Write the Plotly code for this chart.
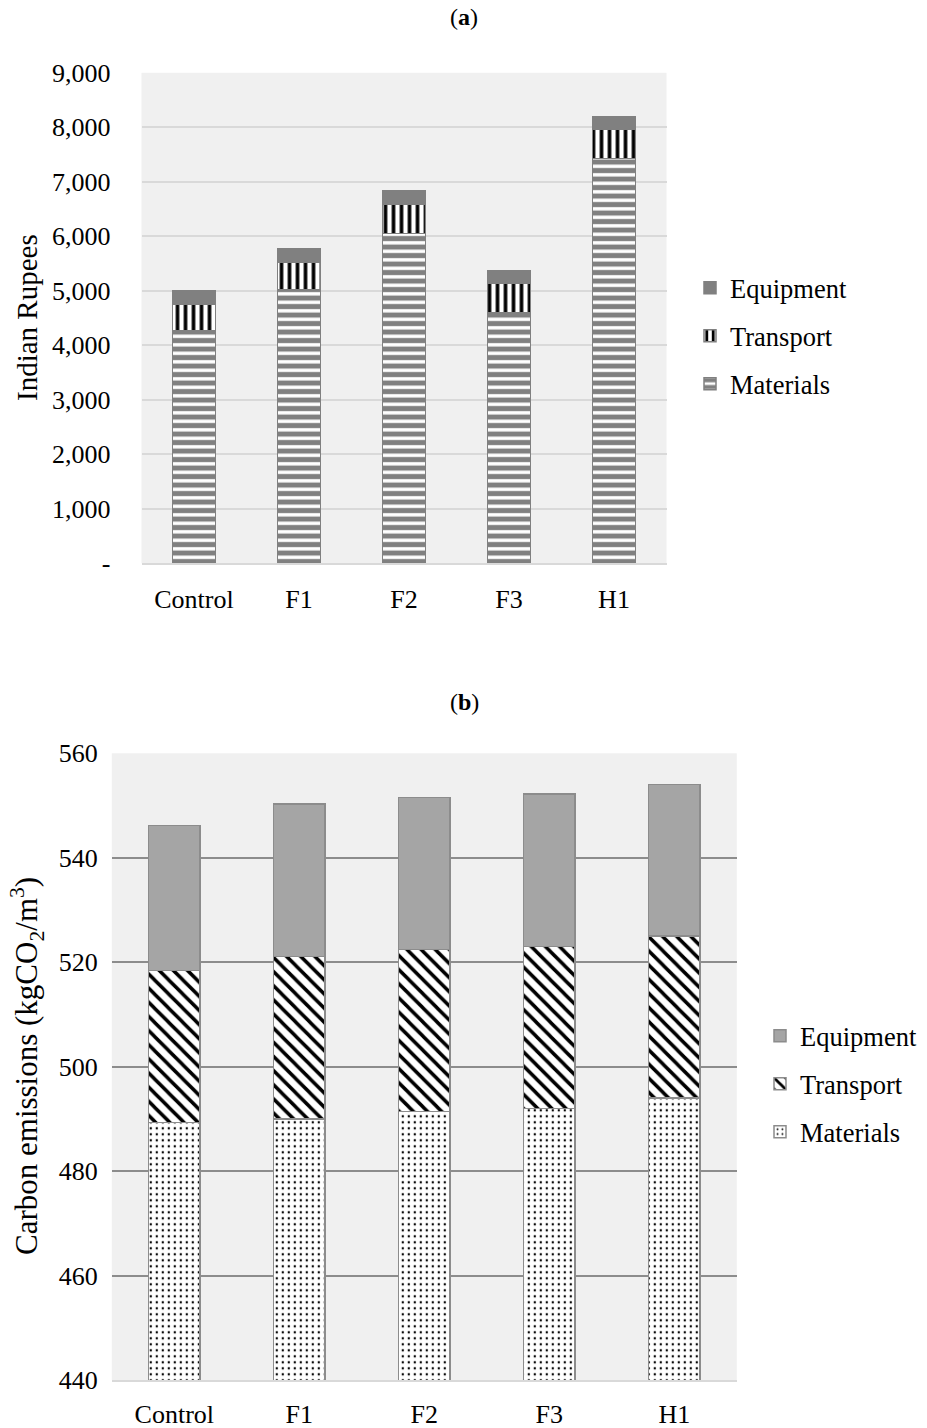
import plotly.graph_objects as go

# ---- data -------------------------------------------------------------
categories = ["Control", "F1", "F2", "F3", "H1"]

# (a) cost breakdown, Indian Rupees
cost_materials = [4270, 5015, 6055, 4605, 7430]
cost_transport = [490, 515, 535, 525, 530]
cost_equipment = [250, 250, 240, 235, 240]
cost_ticks = [0, 1000, 2000, 3000, 4000, 5000, 6000, 7000, 8000, 9000]
cost_ticktext = ["-", "1,000", "2,000", "3,000", "4,000", "5,000",
                 "6,000", "7,000", "8,000", "9,000"]

# (b) carbon emissions, kgCO2/m3
co2_materials = [489.3, 490.0, 491.4, 492.0, 494.0]
co2_transport = [29.1, 31.1, 31.0, 31.0, 31.0]
co2_equipment = [27.8, 29.2, 29.1, 29.2, 29.0]
co2_ticks = [440, 460, 480, 500, 520, 540, 560]

# ---- layout helpers ---------------------------------------------------
W, H = 927, 1428
FONT = "Liberation Serif"
TXT = "#000000"


def px_x(p):
    return p / W


def px_y(p):
    return 1 - p / H


fig = go.Figure()

# ---- (a) --------------------------------------------------------------
top_outline = dict(color="#808080", width=1.5)
fig.add_trace(go.Bar(
    x=categories, y=cost_materials, name="Materials",
    legend="legend", legendgroup="a_mat", legendrank=3,
    marker=dict(color="#ffffff", line=top_outline,
                pattern=dict(shape="-", fgcolor="#808080", bgcolor="#ffffff",
                             size=8.5, solidity=0.6, fgopacity=1)),
    xaxis="x", yaxis="y", width=0.41,
))
fig.add_trace(go.Bar(
    x=categories, y=cost_transport, name="Transport",
    legend="legend", legendgroup="a_tr", legendrank=2,
    marker=dict(color="#ffffff", line=top_outline,
                pattern=dict(shape="|", fgcolor="#000000", bgcolor="#ffffff",
                             size=8, solidity=0.45, fgopacity=1)),
    xaxis="x", yaxis="y", width=0.41,
))
fig.add_trace(go.Bar(
    x=categories, y=cost_equipment, name="Equipment",
    legend="legend", legendgroup="a_eq", legendrank=1,
    marker=dict(color="#808080", line=top_outline),
    xaxis="x", yaxis="y", width=0.41,
))

# ---- (b) --------------------------------------------------------------
bot_outline = dict(color="#8c8c8c", width=1.5)
fig.add_trace(go.Bar(
    x=categories, y=co2_materials, name="Materials",
    legend="legend2", legendgroup="b_mat", legendrank=3,
    marker=dict(color="#ffffff", line=bot_outline,
                pattern=dict(shape=".", fgcolor="#000000", bgcolor="#ffffff",
                             size=6, solidity=0.12, fgopacity=1)),
    xaxis="x2", yaxis="y2", width=0.41,
))
fig.add_trace(go.Bar(
    x=categories, y=co2_transport, name="Transport",
    legend="legend2", legendgroup="b_tr", legendrank=2,
    marker=dict(color="#ffffff", line=bot_outline,
                pattern=dict(shape="\\", fgcolor="#000000", bgcolor="#ffffff",
                             size=10, solidity=0.35, fgopacity=1)),
    xaxis="x2", yaxis="y2", width=0.41,
))
fig.add_trace(go.Bar(
    x=categories, y=co2_equipment, name="Equipment",
    legend="legend2", legendgroup="b_eq", legendrank=1,
    marker=dict(color="#a5a5a5", line=bot_outline),
    xaxis="x2", yaxis="y2", width=0.41,
))

tick_font = dict(family=FONT, size=26, color=TXT)
legend_font = dict(family=FONT, size=26.5, color=TXT)

fig.update_layout(
    width=W, height=H,
    margin=dict(l=0, r=0, t=0, b=0, autoexpand=False),
    paper_bgcolor="#ffffff",
    plot_bgcolor="#f0f0f0",
    barmode="stack",
    font=dict(family=FONT, color=TXT),
    xaxis=dict(
        domain=[px_x(141.5), px_x(666.5)], anchor="y", automargin=False,
        range=[-0.5, 4.5], showgrid=False, zeroline=False,
        showline=True, linecolor="#d9d9d9", linewidth=1.5,
        ticks="", tickfont=tick_font, ticklabelstandoff=12,
        fixedrange=True,
    ),
    yaxis=dict(
        domain=[px_y(563.3), px_y(72.8)], anchor="x", automargin=False,
        range=[0, 9000], tickvals=cost_ticks, ticktext=cost_ticktext,
        showgrid=True, gridcolor="#d9d9d9", gridwidth=1.5,
        zeroline=False, showline=False, ticks="",
        tickfont=tick_font, ticklabelstandoff=30,
    ),
    xaxis2=dict(
        domain=[px_x(111.8), px_x(736.8)], anchor="y2", automargin=False,
        range=[-0.5, 4.5], showgrid=False, zeroline=False,
        showline=True, linecolor="#d9d9d9", linewidth=1.5,
        ticks="", tickfont=tick_font, ticklabelstandoff=10,
    ),
    yaxis2=dict(
        domain=[px_y(1380), px_y(753.3)], anchor="x2", automargin=False,
        range=[440, 560], tickvals=co2_ticks,
        showgrid=True, gridcolor="#8c8c8c", gridwidth=1.5,
        zeroline=False, showline=False, ticks="",
        tickfont=tick_font, ticklabelstandoff=13,
    ),
    legend=dict(
        x=px_x(690), y=px_y(264), xanchor="left", yanchor="top",
        traceorder="grouped", tracegroupgap=10.5,
        font=legend_font, bgcolor="rgba(0,0,0,0)",
    ),
    legend2=dict(
        x=px_x(760), y=px_y(1012), xanchor="left", yanchor="top",
        traceorder="grouped", tracegroupgap=10.5,
        font=legend_font, bgcolor="rgba(0,0,0,0)",
    ),
    annotations=[
        dict(text="(<b>a</b>)", x=px_x(464), y=px_y(17), xref="paper", yref="paper",
             xanchor="center", yanchor="middle", showarrow=False,
             font=dict(family=FONT, size=24, color=TXT)),
        dict(text="(<b>b</b>)", x=px_x(464), y=px_y(702), xref="paper", yref="paper",
             xanchor="center", yanchor="middle", showarrow=False,
             font=dict(family=FONT, size=24, color=TXT)),
        dict(text="Indian Rupees", x=px_x(27), y=px_y(318), xref="paper", yref="paper",
             xanchor="center", yanchor="middle", textangle=-90, showarrow=False,
             font=dict(family=FONT, size=29, color=TXT)),
        dict(text="Carbon emissions (kgCO<sub>2</sub>/m<sup>3</sup>)",
             x=px_x(27), y=px_y(1066), xref="paper", yref="paper",
             xanchor="center", yanchor="middle", textangle=-90, showarrow=False,
             font=dict(family=FONT, size=31, color=TXT)),
    ],
)

fig.write_html("out.html")
